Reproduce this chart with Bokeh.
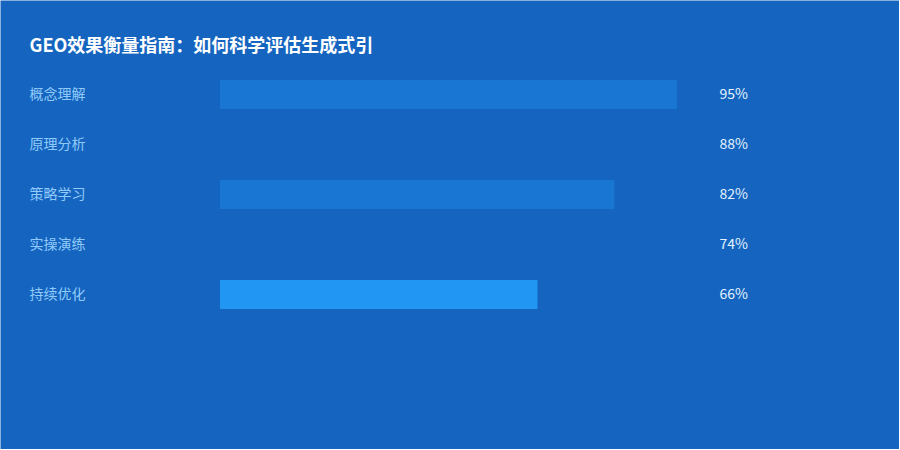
from bokeh.plotting import figure
from bokeh.models import Range1d, Label, ColumnDataSource
from bokeh.core.properties import value
from bokeh.embed import file_html
from bokeh.resources import INLINE

title = "GEO效果衡量指南：如何科学评估生成式引"
categories = ["概念理解", "原理分析", "策略学习", "实操演练", "持续优化"]
values = [95, 88, 82, 74, 66]
bar_colors = ["#1976D2", "#1565C0", "#1976D2", "#1565C0", "#2196F3"]
value_labels = [f"{v}%" for v in values]

BG = "#1565C0"
W, H = 899, 449
OFF = 1
PX_PER_UNIT = 4.81
X0 = 219.5
ROW_PX = 50
ROW0 = 95 - OFF

p = figure(width=W, height=H, output_backend="svg", toolbar_location=None,
           x_range=Range1d(-X0 / PX_PER_UNIT, (W - X0) / PX_PER_UNIT),
           y_range=Range1d((H - ROW0) / ROW_PX, -ROW0 / ROW_PX),
           min_border=0, outline_line_color=None)
p.background_fill_color = BG
p.border_fill_color = BG
p.axis.visible = False
p.grid.visible = False

idx = list(range(len(categories)))
lx = (30 - OFF - X0) / PX_PER_UNIT
vx = (720 - OFF - X0) / PX_PER_UNIT
src = ColumnDataSource(dict(y=idx, v=values, c=bar_colors, cat=categories, lab=value_labels,
                            lx=[lx] * len(idx), vx=[vx] * len(idx)))

p.hbar(y="y", left=0, right="v", height=0.58, fill_color="c", line_color=None, source=src)

p.text(x="lx", y="y", text="cat", source=src, text_color="#90CAF9",
       text_font=value("Noto Sans CJK SC"), text_font_size="14px",
       text_baseline="middle", text_align="left", y_offset=-1.5)
p.text(x="vx", y="y", text="lab", source=src, text_color="#E3F2FD",
       text_font=value("Noto Sans CJK SC"), text_font_size="14px",
       text_baseline="middle", text_align="left", y_offset=-1.5)

p.add_layout(Label(x=30 - OFF, y=H - (44 - OFF), x_units="screen", y_units="screen", text=title,
                   text_color="#FFFFFF", text_font="Noto Sans CJK SC", text_font_style="bold",
                   text_font_size="18px", text_baseline="middle"))

open("out.html", "w").write(file_html(p, INLINE))
